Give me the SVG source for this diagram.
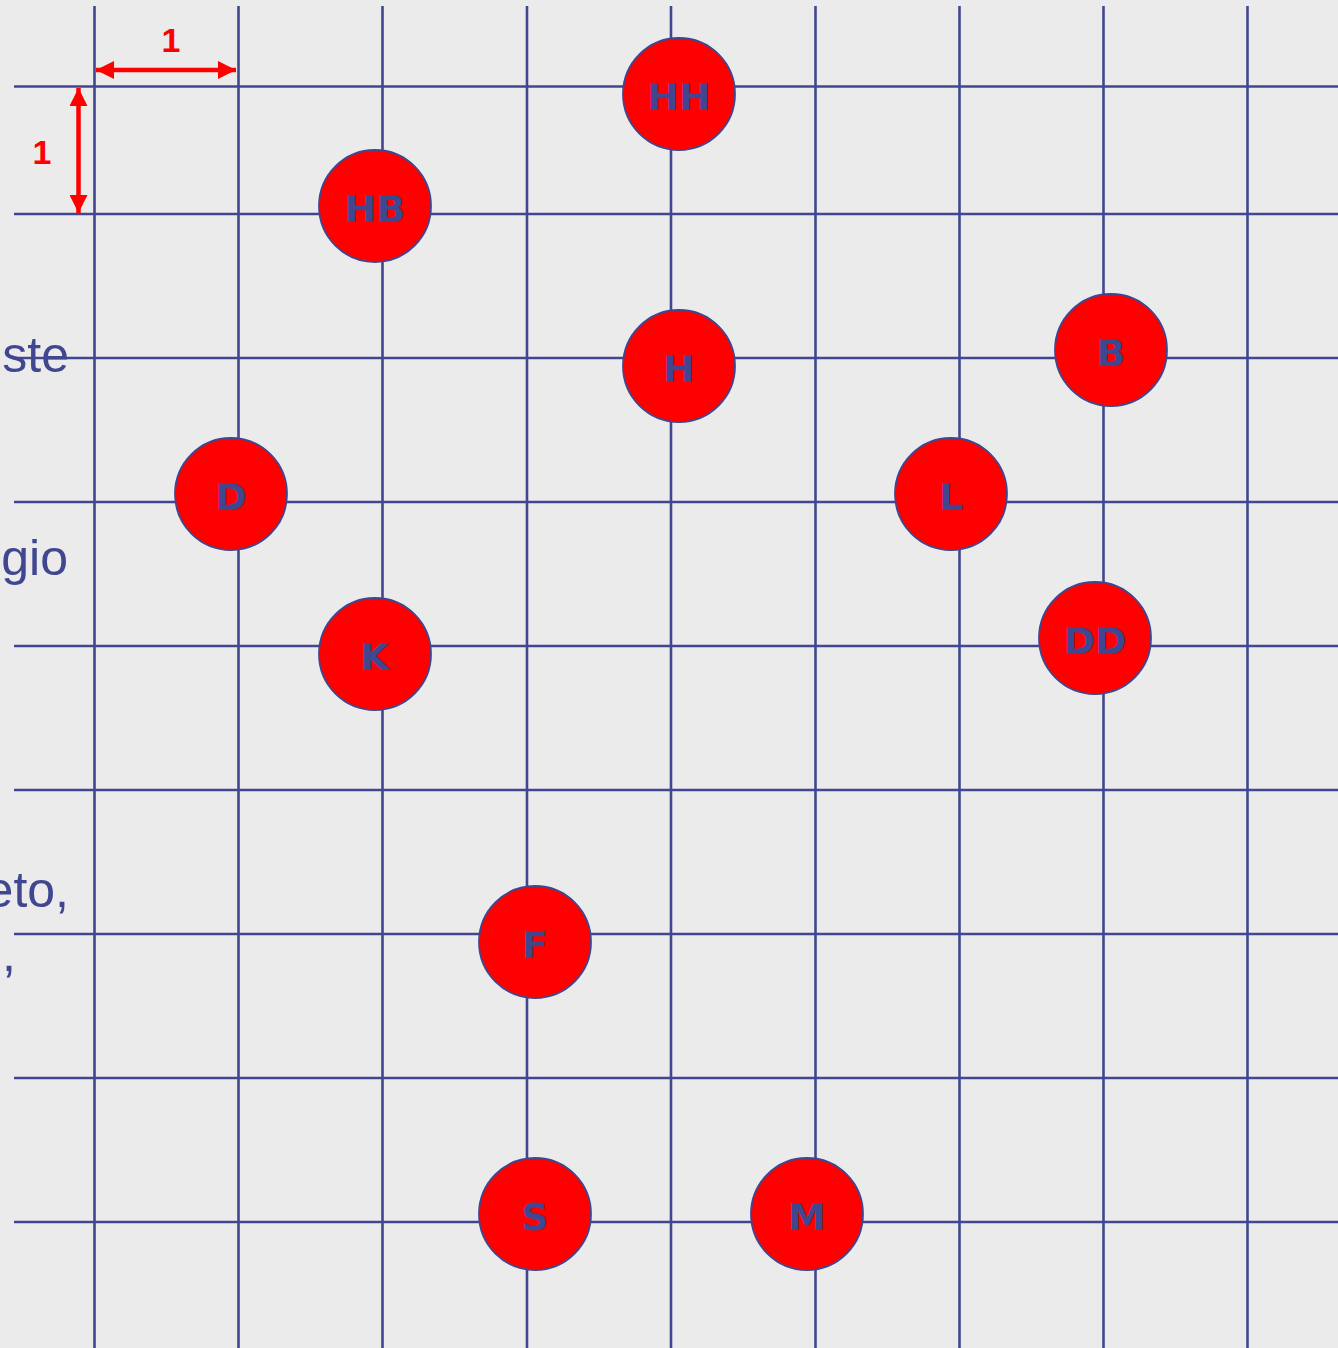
<svg xmlns="http://www.w3.org/2000/svg" width="1338" height="1348" viewBox="0 0 1338 1348">
<style>
.g line{stroke:#404790;stroke-width:2.6}
.n circle{fill:#ff0000;stroke:#404790;stroke-width:1.8}
.n text{font-family:"DejaVu Sans",Verdana,sans-serif;font-weight:bold;font-size:38px;fill:#404790;text-anchor:middle}
.lbl{font-family:"Liberation Sans",Arial,sans-serif;font-size:50px;fill:#404790;text-anchor:end}
.dim{font-family:"Liberation Sans",Arial,sans-serif;font-weight:bold;font-size:34px;fill:#ff0000;text-anchor:middle}
.arr{stroke:#ff0000;stroke-width:4.5;fill:none}
</style>
<defs>
<marker id="ah" viewBox="0 0 18 18" refX="18" refY="9" markerWidth="18" markerHeight="18" markerUnits="userSpaceOnUse" orient="auto-start-reverse">
<path d="M0,0 L18,9 L0,18 Z" fill="#ff0000"/>
</marker>
</defs>
<rect width="1338" height="1348" fill="#ebebeb"/>
<g class="g" id="grid">
<line x1="94.5" y1="6" x2="94.5" y2="1348"/>
<line x1="238.5" y1="6" x2="238.5" y2="1348"/>
<line x1="382.5" y1="6" x2="382.5" y2="1348"/>
<line x1="527" y1="6" x2="527" y2="1348"/>
<line x1="671" y1="6" x2="671" y2="1348"/>
<line x1="815.5" y1="6" x2="815.5" y2="1348"/>
<line x1="959.5" y1="6" x2="959.5" y2="1348"/>
<line x1="1103.5" y1="6" x2="1103.5" y2="1348"/>
<line x1="1247.5" y1="6" x2="1247.5" y2="1348"/>
<line x1="14" y1="86.5" x2="1338" y2="86.5"/>
<line x1="14" y1="214" x2="1338" y2="214"/>
<line x1="14" y1="358" x2="1338" y2="358"/>
<line x1="14" y1="502" x2="1338" y2="502"/>
<line x1="14" y1="646" x2="1338" y2="646"/>
<line x1="14" y1="790" x2="1338" y2="790"/>
<line x1="14" y1="934" x2="1338" y2="934"/>
<line x1="14" y1="1078" x2="1338" y2="1078"/>
<line x1="14" y1="1222" x2="1338" y2="1222"/>
</g>
<g id="labels">
<text class="lbl" x="69" y="372">ste</text>
<text class="lbl" x="68" y="575">gio</text>
<text class="lbl" x="69" y="907">eto,</text>
<text class="lbl" x="16" y="971">,</text>
</g>
<g id="connectors">
<line class="arr" x1="96" y1="70" x2="236" y2="70" marker-start="url(#ah)" marker-end="url(#ah)"/>
<line class="arr" x1="78.5" y1="88" x2="78.5" y2="213" marker-start="url(#ah)" marker-end="url(#ah)"/>
<text class="dim" x="171" y="52">1</text>
<text class="dim" x="42" y="164">1</text>
</g>
<g class="n" id="node-HH"><circle cx="679" cy="94" r="56"/><text x="679" y="110">HH</text></g>
<g class="n" id="node-HB"><circle cx="375" cy="206" r="56"/><text x="375" y="222">HB</text></g>
<g class="n" id="node-H"><circle cx="679" cy="366" r="56"/><text x="679" y="382">H</text></g>
<g class="n" id="node-B"><circle cx="1111" cy="350" r="56"/><text x="1111" y="366">B</text></g>
<g class="n" id="node-D"><circle cx="231" cy="494" r="56"/><text x="231" y="510">D</text></g>
<g class="n" id="node-L"><circle cx="951" cy="494" r="56"/><text x="951" y="510">L</text></g>
<g class="n" id="node-K"><circle cx="375" cy="654" r="56"/><text x="375" y="670">K</text></g>
<g class="n" id="node-DD"><circle cx="1095" cy="638" r="56"/><text x="1095" y="654">DD</text></g>
<g class="n" id="node-F"><circle cx="535" cy="942" r="56"/><text x="535" y="958">F</text></g>
<g class="n" id="node-S"><circle cx="535" cy="1214" r="56"/><text x="535" y="1230">S</text></g>
<g class="n" id="node-M"><circle cx="807" cy="1214" r="56"/><text x="807" y="1230">M</text></g>
</svg>
